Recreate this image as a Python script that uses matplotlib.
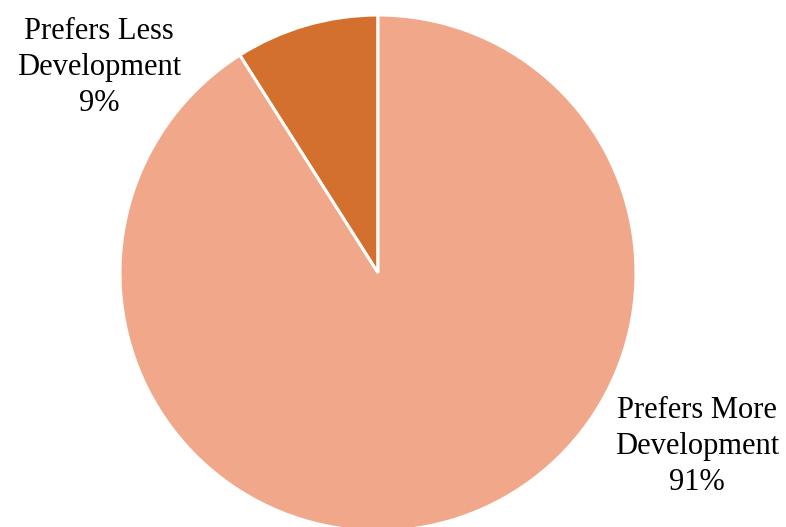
import matplotlib.pyplot as plt

categories = ["Prefers Less\nDevelopment", "Prefers More\nDevelopment"]
shares = [9, 91]
colors = ["#D4702D", "#F0A78A"]

plt.rcParams["font.family"] = ["Liberation Serif", "DejaVu Serif"]

fig = plt.figure(figsize=(7.86, 5.27), dpi=100)
# axes 516x516 px centred on the pie centre (378, 273 from top)
ax = fig.add_axes([120 / 786, -4 / 527, 516 / 786, 516 / 527])

ax.pie(
    shares,
    colors=colors,
    startangle=90,
    counterclock=True,
    radius=1,
    wedgeprops=dict(edgecolor="white", linewidth=2.2),
)
ax.set_xlim(-1, 1)
ax.set_ylim(-1, 1)
ax.set_aspect("equal")
ax.axis("off")

label_pos = [(-1.08, 0.795), (1.236, -0.673)]
for cat, val, (x, y) in zip(categories, shares, label_pos):
    ax.text(x, y, f"{cat}\n{val}%", ha="center", va="center",
            fontsize=22, linespacing=1.32, clip_on=False)

fig.savefig("out.png", dpi=100)
